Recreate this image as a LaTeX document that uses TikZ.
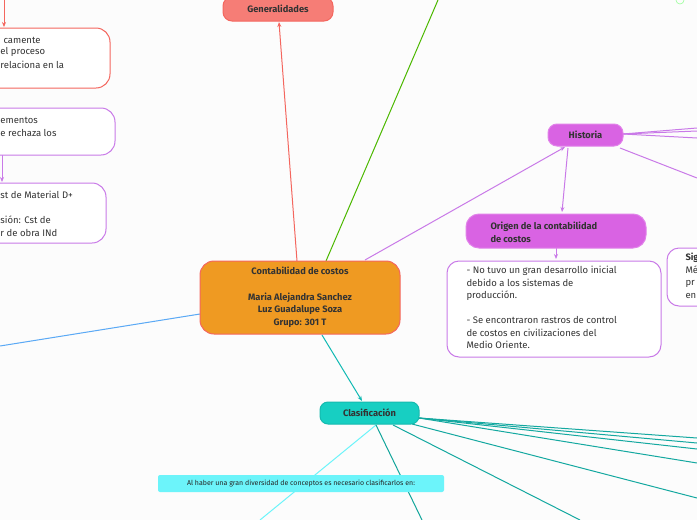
\documentclass[tikz,border=0pt]{standalone}
\usepackage{fontspec}
\setmainfont{Fira Sans}
\usetikzlibrary{arrows.meta}
\begin{document}
\begin{tikzpicture}[x=1pt,y=-1pt,line width=1pt,
  lbl/.style={font=\fontsize{9.5}{12.5}\selectfont,text=black!80,anchor=west,inner sep=0},
  bl/.style={font=\bfseries\fontsize{9.3}{12.5}\selectfont,text=black!80,inner sep=0},
  arr/.style={-{Stealth[length=5pt,width=4pt]}}]
\definecolor{redc}{HTML}{F4665E}\definecolor{purc}{HTML}{C97AE8}
\definecolor{orc}{HTML}{EF9A22}\definecolor{magc}{HTML}{D963E3}
\definecolor{tealc}{HTML}{17CFC2}\definecolor{cyc}{HTML}{6CF4FA}
\definecolor{tdark}{HTML}{14A8A0}\definecolor{bluc}{HTML}{5AA9F5}
\path[fill=white!98!gray] (0,0) rectangle (697,520);
\useasboundingbox (0,0) rectangle (697,520);
\clip (0,0) rectangle (697,520);
% connectors (drawn first)
\draw[redc,arr] (297,261) -- (279,22);
\draw[green!60!black!70!yellow] (326,261) -- (438,0);
\draw[purc,arr] (365,260) -- (565,147);
\draw[bluc] (200,314) -- (0,346);
\draw[tdark!80!cyan,arr] (322,335) -- (362,401);
\draw[redc,arr] (4,0) -- (4,27);
\draw[purc,arr] (2,155) -- (2,182);
\foreach \y in {128,131,138}{\draw[purc] (623,134) -- (697,\y);}
\draw[purc] (620,148) -- (697,178);
\draw[purc,arr] (568,148) -- (562,212);
\draw[purc,arr] (556,248) -- (556,259);
\draw[cyc] (376,425) -- (260,520);
\draw[tealc!80!black] (376,425) -- (422,520);
\draw[tdark] (393,425) -- (580,520);
\draw[tdark] (412,424) -- (697,498);
\foreach \y in {438,443,449,463}{\draw[tdark] (419,418) -- (697,\y);}
\draw[green!40!white,line width=0.6pt] (680,0) circle (4);
% nodes
\node[draw=redc,fill=redc!85!white,rounded corners=9pt,minimum width=110pt,minimum height=24pt,inner sep=0] (gen) at (278,9) {};
\node[bl] at (gen) {Generalidades};
\node[draw=redc,fill=white,rounded corners=14pt,minimum width=160pt,minimum height=60pt] (r1) at (30,58) {};
\node[lbl] at (3,40) {camente};
\node[lbl] at (0,52) {el proceso};
\node[lbl] at (0,65) {relaciona en la};
\node[draw=purc,fill=white,rounded corners=14pt,minimum width=160pt,minimum height=47pt] (p1) at (35,131.5) {};
\node[lbl] at (0,120) {ementos};
\node[lbl] at (0,133) {e rechaza los};
\node[draw=purc,fill=white,rounded corners=14pt,minimum width=160pt,minimum height=60pt] (p2) at (26,213) {};
\node[lbl] at (0,195) {st de Material D+};
\node[lbl] at (0,220) {sión: Cst de};
\node[lbl] at (0,233) {r de obra INd};
\node[draw=redc,fill=orc,rounded corners=14pt,minimum width=200pt,minimum height=73pt,align=center,font=\bfseries\fontsize{9.3}{12.7}\selectfont,text=black!80] (main) at (300,297.5) {Contabilidad de costos\\[12.7pt]Maria Alejandra Sanchez\\Luz Guadalupe Soza\\Grupo: 301 T};
\node[draw=magc!80!white,fill=magc,rounded corners=9pt,minimum width=75pt,minimum height=22pt,bl] (hist) at (585.5,135) {Historia};
\node[draw=magc!80!white,fill=magc,rounded corners=13pt,minimum width=180pt,minimum height=34pt] (orig) at (556,231) {};
\node[bl,anchor=west,align=left] at (490,232.5) {Origen de la contabilidad\\de costos};
\node[draw=purc,fill=white,rounded corners=12pt,minimum width=214pt,minimum height=96pt] (otxt) at (554,309) {};
\node[lbl,align=left,anchor=north west] at (466,266) {- No tuvo un gran desarrollo inicial\\debido a los sistemas de\\producción.\\[12.5pt]- Se encontraron rastros de control\\de costos en civilizaciones del\\Medio Oriente.};
\node[draw=purc,fill=white,rounded corners=12pt,minimum width=80pt,minimum height=58pt] (sig) at (707,277) {};
\node[bl,anchor=west] at (685,258) {Sig};
\node[lbl,align=left,anchor=north west] at (685,265) {Mé\\pr\\en};
\node[draw=tealc!90!black,fill=tealc,rounded corners=8pt,minimum width=99pt,minimum height=22pt,bl] (clas) at (369.5,413) {Clasificación};
\node[fill=cyc,rounded corners=2pt,minimum width=286pt,minimum height=17pt,inner sep=0,font=\fontsize{7}{8}\selectfont,text=black!85] (hab) at (301,483.5) {Al haber una gran diversidad de conceptos es necesario clasificarlos en:};
\end{tikzpicture}
\end{document}
